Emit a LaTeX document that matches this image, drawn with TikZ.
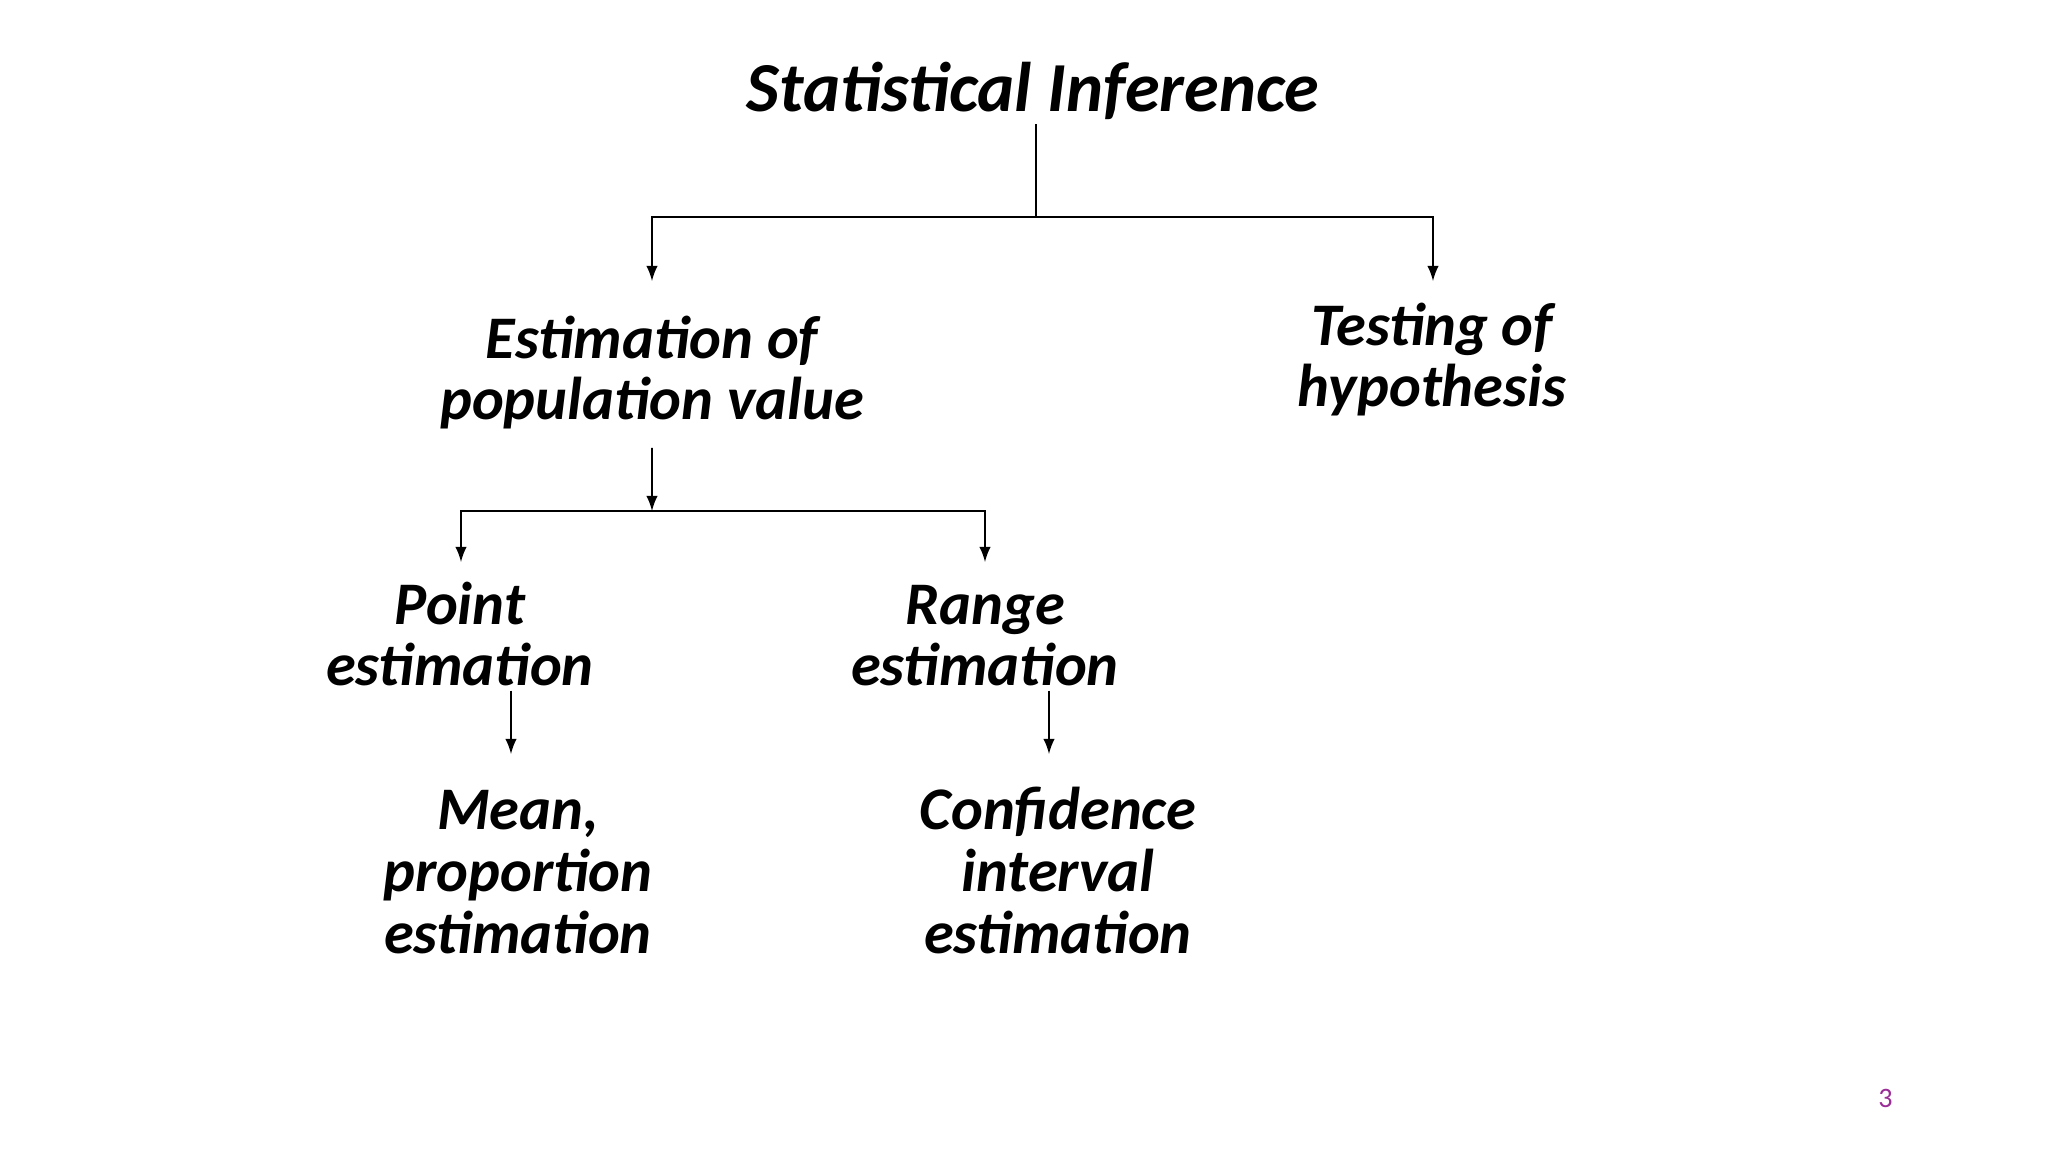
\documentclass[tikz,border=0pt]{standalone}
\usepackage{fontspec}
\setmainfont{Carlito}
\usetikzlibrary{positioning}
\definecolor{slidepurple}{RGB}{155,45,150}

\begin{document}
\begin{tikzpicture}[>=latex, shorten <=2pt, on grid,
    lbl/.style={align=center, inner sep=1pt, font=\fontsize{17.2}{17.5}\selectfont\bfseries\itshape},
    link/.style={line width=0.5pt}]
   \useasboundingbox (0,0) rectangle (20.48,-11.52);
   \node[lbl, anchor=base, font=\fontsize{20}{20}\selectfont\bfseries\itshape] (title) at (10.33,-1.12) {Statistical Inference};
   % multi-line nodes: base is the baseline of the last line
   \node[lbl] (est)  [below left=3.08cm and 3.81cm of title.base, anchor=base]  {Estimation of\\population value};
   \node[lbl] (test) [below right=2.95cm and 3.99cm of title.base, anchor=base] {Testing of\\hypothesis};
   \node[lbl] (point) [below left=2.66cm and 1.92cm of est.base, anchor=base]  {Point\\estimation};
   \node[lbl] (range) [below right=2.66cm and 3.33cm of est.base, anchor=base] {Range\\estimation};
   \node[lbl] (mean) [below right=2.67cm and 0.58cm of point.base, anchor=base] {Mean,\\proportion\\estimation};
   \node[lbl] (conf) [below right=2.67cm and 0.73cm of range.base, anchor=base] {Confidence\\interval\\estimation};
   \node[text=slidepurple, font=\fontsize{8}{9}\selectfont] (pgno) at (18.855,-10.985) {3};

   % branching points and arrow ends
   \coordinate (split-a) at (10.36,-2.17);
   \coordinate (split-b) at (6.52,-5.11);
   \coordinate (to-est)   at (6.52,-2.81);
   \coordinate (to-test)  at (14.33,-2.81);
   \coordinate (to-point) at (4.61,-5.62);
   \coordinate (to-range) at (9.85,-5.62);
   \coordinate (to-mean)  at (5.11,-7.54);
   \coordinate (to-conf)  at (10.49,-7.54);

   \draw[link, shorten <=0pt] (title.south -| split-a) -- (split-a);
   \draw[link, ->, shorten <=0pt] (split-a) -| (to-est);
   \draw[link, ->, shorten <=0pt] (split-a) -| (to-test);
   \draw[link, ->, shorten <=4pt] (est.south) -- (split-b);
   \draw[link, ->, shorten <=0pt] (split-b) -| (to-point);
   \draw[link, ->, shorten <=0pt] (split-b) -| (to-range);
   \draw[link, ->, shorten <=0pt] (point.south -| to-mean) -- (to-mean);
   \draw[link, ->, shorten <=0pt] (range.south -| to-conf) -- (to-conf);
\end{tikzpicture}
\end{document}
